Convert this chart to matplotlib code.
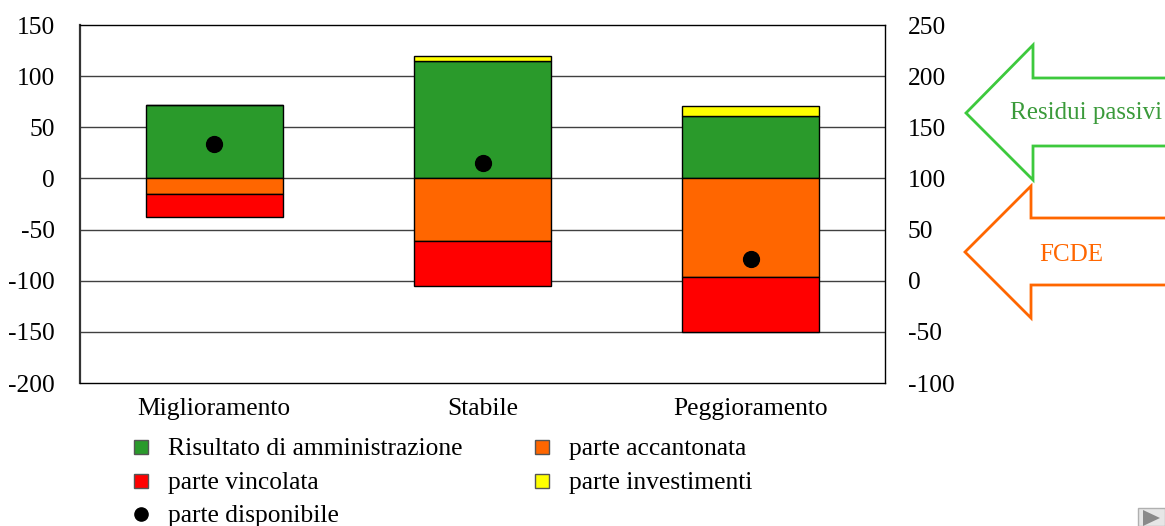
import matplotlib
matplotlib.use("Agg")
import matplotlib.pyplot as plt
from matplotlib.patches import Polygon, Rectangle
from matplotlib.lines import Line2D
import numpy as np

plt.rcParams['font.family'] = ['Liberation Serif', 'DejaVu Serif']
plt.rcParams['axes.unicode_minus'] = False

categories = ["Miglioramento", "Stabile", "Peggioramento"]
risultato = [72, 115, 61]          # green, positive
investimenti = [0, 5, 9.5]         # yellow, stacked on green
accantonata = [15, 61, 96.5]       # orange, negative
vincolata = [23, 44, 54]           # red, stacked below orange
disponibile = [34, 15, -79]        # black dots
left_ticks = [-200, -150, -100, -50, 0, 50, 100, 150]
right_ticks = [-100, -50, 0, 50, 100, 150, 200, 250]

GREEN = '#2a9a2b'
ORANGE = '#ff6600'
RED = '#ff0000'
YELLOW = '#ffff00'
FS = 18.4

W, H = 1165, 526
fig = plt.figure(figsize=(W/100, H/100), dpi=100)
ax = fig.add_axes([80/W, 1-383/H, (885-80)/W, (383-25)/H])

x = np.arange(len(categories))
bw = 0.51
risultato = np.array(risultato, float)
investimenti = np.array(investimenti, float)
accantonata = np.array(accantonata, float)
vincolata = np.array(vincolata, float)

ek = dict(edgecolor='black', linewidth=1, zorder=3)
ax.bar(x, risultato, bw, color=GREEN, label='Risultato di amministrazione', **ek)
ax.bar(x, investimenti, bw, bottom=risultato, color=YELLOW, label='parte investimenti', **ek)
ax.bar(x, -accantonata, bw, color=ORANGE, label='parte accantonata', **ek)
ax.bar(x, -vincolata, bw, bottom=-accantonata, color=RED, label='parte vincolata', **ek)
ax.scatter(x, disponibile, s=130, color='black', zorder=5, label='parte disponibile')

ax.set_xlim(-0.5, 2.5)
ax.set_ylim(-200, 150)
ax.set_yticks(left_ticks)
ax.set_xticks(x)
ax.set_xticklabels(categories)
ax.tick_params(axis='both', length=0, labelsize=FS)
ax.tick_params(axis='y', pad=18)
ax.tick_params(axis='x', pad=11)
for t in [-150, -100, -50, 0, 50, 100]:
    ax.axhline(t, color='#404040', linewidth=1, zorder=1)
for s in ax.spines.values():
    s.set_color('black')
    s.set_linewidth(1)
ax.spines['left'].set_linewidth(1.6)
ax.spines['left'].set_color('#333333')

ax2 = ax.twinx()
ax2.set_ylim(-100, 250)
ax2.set_yticks(right_ticks)
ax2.tick_params(axis='y', length=0, labelsize=FS, pad=16.5)
for s in ax2.spines.values():
    s.set_visible(False)

# Legend (manual layout in figure pixels)
legend_items = [
    ('s', GREEN, 'Risultato di amministrazione', 141, 447),
    ('s', ORANGE, 'parte accantonata', 542, 447),
    ('s', RED, 'parte vincolata', 141, 481),
    ('s', YELLOW, 'parte investimenti', 542, 481),
    ('o', 'black', 'parte disponibile', 141, 514),
]
for mk, col, lab, mx, my in legend_items:
    ec = 'black' if mk == 'o' else '#555555'
    fig.add_artist(Line2D([mx/W], [1-my/H], marker=mk, markersize=10.5 if mk == 's' else 9.5,
                          markerfacecolor=col, markeredgecolor=ec, markeredgewidth=1,
                          linestyle='none', transform=fig.transFigure))
    fig.text((mx+27)/W, 1-(my+2)/H, lab, fontsize=FS, ha='left', va='center')

# Arrows (figure pixel coords)
def px(pts):
    return [(a/W, 1-b/H) for a, b in pts]

green_arrow = [(1180, 78), (1033, 78), (1033, 45), (966, 113), (1033, 180), (1033, 146), (1180, 146)]
orange_arrow = [(1180, 218), (1031, 218), (1031, 186), (965, 252), (1031, 318), (1031, 285), (1180, 285)]
fig.patches.append(Polygon(px(green_arrow), closed=False, fill=False, edgecolor='#3dc93d',
                           linewidth=2, transform=fig.transFigure, figure=fig))
fig.patches.append(Polygon(px(orange_arrow), closed=False, fill=False, edgecolor=ORANGE,
                           linewidth=2, transform=fig.transFigure, figure=fig))
fig.text(1086/W, 1-113/H, 'Residui passivi', color='#3a9a3a', fontsize=18,
         ha='center', va='center')
fig.text(1071/W, 1-255/H, 'FCDE', color=ORANGE, fontsize=18, ha='center', va='center')

# slide nav icon
fig.patches.append(Rectangle((1138/W, 0), 27/W, 18/H, facecolor='#e6e6e6', edgecolor='#b0b0b0',
                             linewidth=1, transform=fig.transFigure, figure=fig))
fig.patches.append(Polygon(px([(1143, 510), (1143, 526), (1160, 518)]), closed=True, facecolor='#8a8a8a',
                           edgecolor='none', transform=fig.transFigure, figure=fig))

fig.savefig('out.png', dpi=100)
